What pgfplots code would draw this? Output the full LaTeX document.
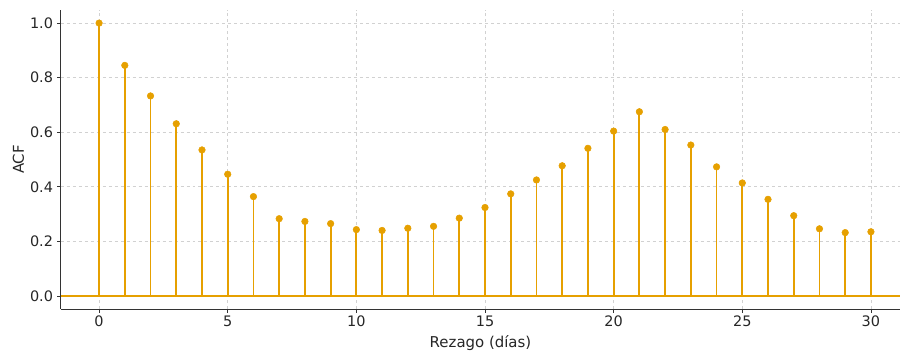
\documentclass[border=0pt]{standalone}
\usepackage{pgfplots}
\pgfplotsset{compat=1.18}
\usepackage{fontspec}
\setmainfont{DejaVu Sans}
\definecolor{acf}{HTML}{E6A000}
\begin{document}
\begin{tikzpicture}
\begin{axis}[
  name=ax,
  scale only axis,
  width=839bp, height=299bp,
  xmin=-1.48, xmax=31.13,
  ymin=-0.048, ymax=1.048,
  axis lines=left,
  axis line style={-, black!80, line width=1bp},
  xtick={0,5,...,30},
  ytick={0,0.2,0.4,0.6,0.8,1.0},
  ticklabel style={font=\fontsize{14.5}{17}\selectfont, text=black!85},
  yticklabel style={xshift=-1bp, /pgf/number format/.cd, fixed, fixed zerofill, precision=1},
  /pgf/number format/assume math mode=true,
  tick style={black!80, line width=0.8bp},
  tick align=outside,
  major tick length=3.5bp,
  grid=major,
  grid style={dashed, black!18, line width=0.6bp},
  label style={font=\fontsize{15}{18}\selectfont, text=black!85},
  xlabel={Rezago (días)},
  ylabel={ACF},
  xlabel style={yshift=-2bp},
  ylabel style={yshift=-1bp},
  clip=false,
]
\addplot[acf, line width=1.6bp, forget plot] coordinates {(-1.48,0) (31.13,0)};
\addplot[ycomb, acf, line width=1.8bp, mark=*, mark size=3.3bp, mark options={fill=acf, draw=acf, line width=0.5bp}] coordinates {
(0,1.000) (1,0.845) (2,0.733) (3,0.631) (4,0.535) (5,0.446) (6,0.364) (7,0.283) (8,0.273) (9,0.265)
(10,0.243) (11,0.240) (12,0.248) (13,0.255) (14,0.285) (15,0.324) (16,0.374) (17,0.425) (18,0.477) (19,0.541)
(20,0.604) (21,0.675) (22,0.610) (23,0.553) (24,0.473) (25,0.414) (26,0.354) (27,0.294) (28,0.246) (29,0.232) (30,0.235)
};
\end{axis}
\pgfresetboundingbox
\path ([shift={(-61bp,-45bp)}]ax.south west) rectangle ([shift={(1bp,10bp)}]ax.north east);
\end{tikzpicture}
\end{document}
